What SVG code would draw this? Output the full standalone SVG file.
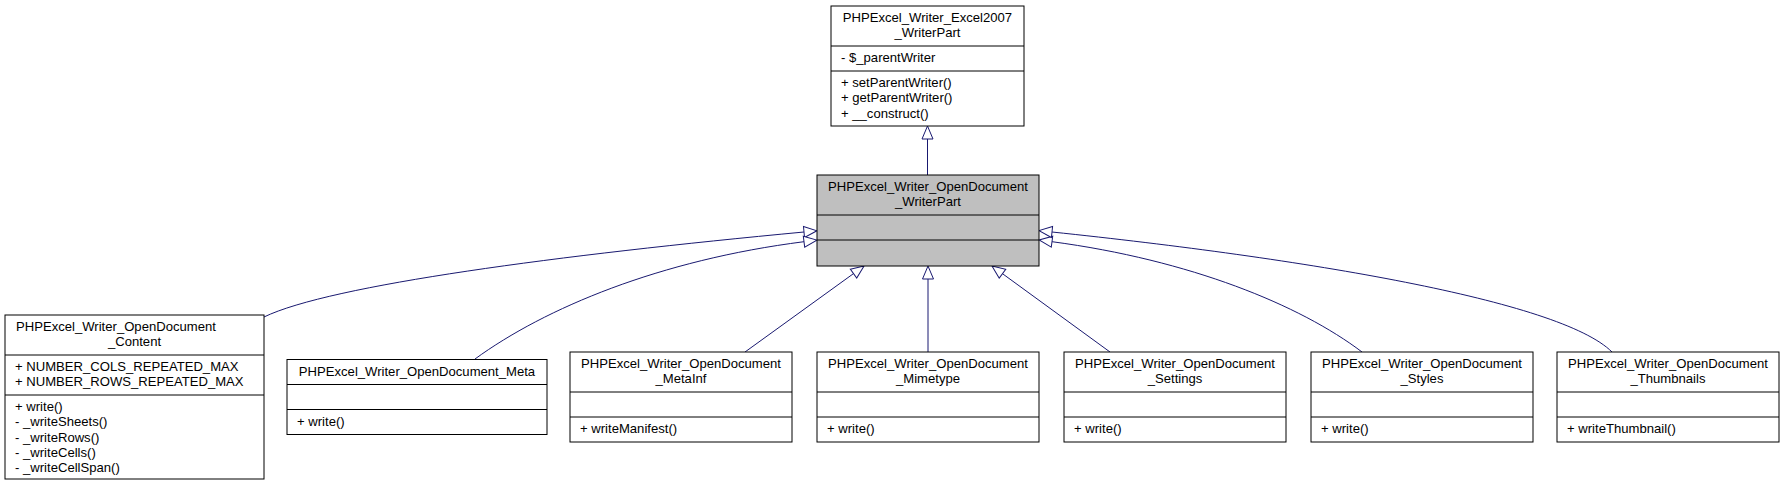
<svg xmlns="http://www.w3.org/2000/svg" width="1785" height="485" viewBox="0 0 1785 485">
<style>
  text { font-family: "Liberation Sans", Arial, sans-serif; font-size: 13.1px; fill: #000; }
  .c { text-anchor: middle; }
  .box { fill: #fff; stroke: #000; stroke-width: 1; }
  .cur { fill: #bfbfbf; stroke: #000; stroke-width: 1; }
  .div { stroke: #000; stroke-width: 1; fill: none; }
  .edge { stroke: #191970; stroke-width: 1; fill: none; marker-end: url(#tri); }
</style>
<defs>
  <marker id="tri" markerWidth="14" markerHeight="12" refX="0" refY="6" orient="auto" markerUnits="userSpaceOnUse" viewBox="0 0 14 12" overflow="visible">
    <path d="M0,0.5 L13,6 L0,11.5 Z" fill="#fff" stroke="#191970" stroke-width="1"/>
  </marker>
</defs>
<rect width="1785" height="485" fill="#fff"/>

<g id="edges">
  <path class="edge" d="M927.5,175 L927.5,139"/>
  <path class="edge" d="M264,317 C330,285 560,255 804,232"/>
  <path class="edge" d="M475,359 C545,308 660,260 804,241.7"/>
  <path class="edge" d="M745,352 L853.5,273.6"/>
  <path class="edge" d="M928,352 L928,279"/>
  <path class="edge" d="M1110,352 L1002.5,273.7"/>
  <path class="edge" d="M1362,352 C1300,305 1190,260 1052,241.7"/>
  <path class="edge" d="M1612,352 C1560,300 1300,258 1052,232"/>
</g>

<g id="node_Excel2007_WriterPart">
  <rect class="box" x="831" y="6" width="193" height="120"/>
  <path class="div" d="M831,46 H1024 M831,71 H1024"/>
  <text class="c" x="927.5" y="22">PHPExcel_Writer_Excel2007</text>
  <text class="c" x="927.5" y="37.3">_WriterPart</text>
  <text x="841" y="62">- $_parentWriter</text>
  <text x="841" y="87">+ setParentWriter()</text>
  <text x="841" y="102.3">+ getParentWriter()</text>
  <text x="841" y="117.6">+ __construct()</text>
</g>

<g id="node_OpenDocument_WriterPart">
  <rect class="cur" x="817" y="175" width="222" height="91"/>
  <path class="div" d="M817,215 H1039 M817,240 H1039"/>
  <text class="c" x="928" y="191">PHPExcel_Writer_OpenDocument</text>
  <text class="c" x="928" y="206.3">_WriterPart</text>
</g>

<g id="node_Content">
  <rect class="box" x="5" y="315" width="259" height="164"/>
  <path class="div" d="M5,355 H264 M5,395 H264"/>
  <text x="16" y="331">PHPExcel_Writer_OpenDocument</text>
  <text class="c" x="134.5" y="346.3">_Content</text>
  <text x="15" y="371">+ NUMBER_COLS_REPEATED_MAX</text>
  <text x="15" y="386.3">+ NUMBER_ROWS_REPEATED_MAX</text>
  <text x="15" y="411">+ write()</text>
  <text x="15" y="426.3">- _writeSheets()</text>
  <text x="15" y="441.6">- _writeRows()</text>
  <text x="15" y="456.9">- _writeCells()</text>
  <text x="15" y="472.2">- _writeCellSpan()</text>
</g>

<g id="node_Meta">
  <rect class="box" x="287" y="359.5" width="260" height="75"/>
  <path class="div" d="M287,384.5 H547 M287,409.5 H547"/>
  <text class="c" x="417" y="375.5">PHPExcel_Writer_OpenDocument_Meta</text>
  <text x="297" y="425.5">+ write()</text>
</g>

<g id="node_MetaInf">
  <rect class="box" x="570" y="352" width="222" height="90"/>
  <path class="div" d="M570,392 H792 M570,417 H792"/>
  <text class="c" x="681" y="368">PHPExcel_Writer_OpenDocument</text>
  <text class="c" x="681" y="383.3">_MetaInf</text>
  <text x="580" y="433">+ writeManifest()</text>
</g>

<g id="node_Mimetype">
  <rect class="box" x="817" y="352" width="222" height="90"/>
  <path class="div" d="M817,392 H1039 M817,417 H1039"/>
  <text class="c" x="928" y="368">PHPExcel_Writer_OpenDocument</text>
  <text class="c" x="928" y="383.3">_Mimetype</text>
  <text x="827" y="433">+ write()</text>
</g>

<g id="node_Settings">
  <rect class="box" x="1064" y="352" width="222" height="90"/>
  <path class="div" d="M1064,392 H1286 M1064,417 H1286"/>
  <text class="c" x="1175" y="368">PHPExcel_Writer_OpenDocument</text>
  <text class="c" x="1175" y="383.3">_Settings</text>
  <text x="1074" y="433">+ write()</text>
</g>

<g id="node_Styles">
  <rect class="box" x="1311" y="352" width="222" height="90"/>
  <path class="div" d="M1311,392 H1533 M1311,417 H1533"/>
  <text class="c" x="1422" y="368">PHPExcel_Writer_OpenDocument</text>
  <text class="c" x="1422" y="383.3">_Styles</text>
  <text x="1321" y="433">+ write()</text>
</g>

<g id="node_Thumbnails">
  <rect class="box" x="1557" y="352" width="222" height="90"/>
  <path class="div" d="M1557,392 H1779 M1557,417 H1779"/>
  <text class="c" x="1668" y="368">PHPExcel_Writer_OpenDocument</text>
  <text class="c" x="1668" y="383.3">_Thumbnails</text>
  <text x="1567" y="433">+ writeThumbnail()</text>
</g>
</svg>
